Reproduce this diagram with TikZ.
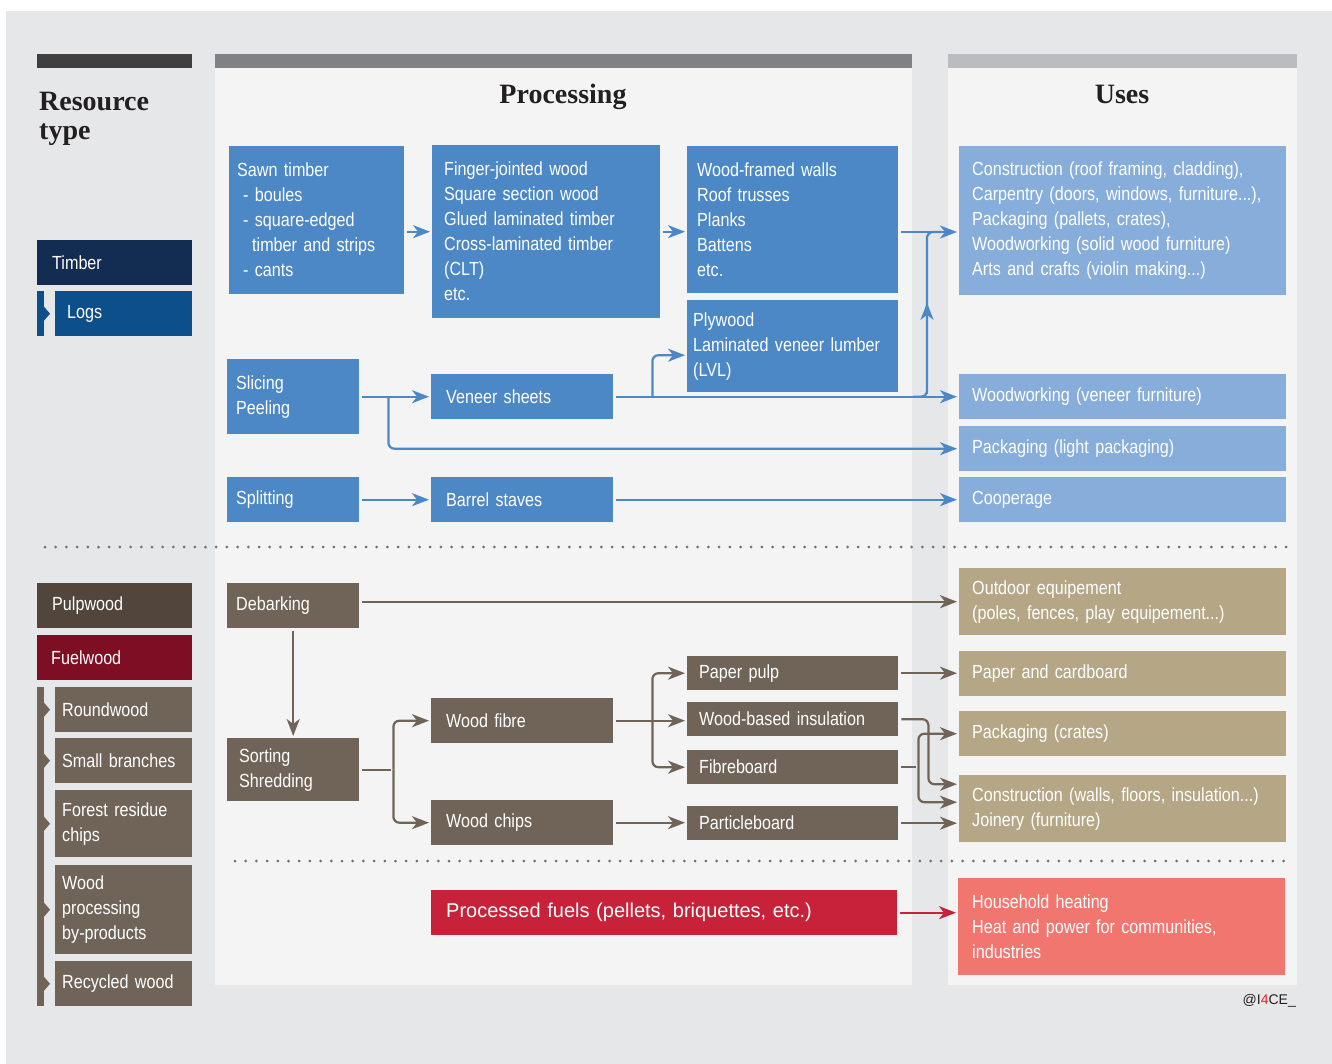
\documentclass[tikz,border=0pt]{standalone}
\usepackage{fontspec}
\setmainfont{Liberation Sans}[FakeStretch=0.85]
\newfontfamily\wideface{Liberation Sans}
\newfontfamily\slabface{Liberation Serif}
\usetikzlibrary{arrows.meta,calc}
\newcommand{\cellfont}{\fontsize{19pt}{25pt}\selectfont}
\newcommand{\titlefont}{\slabface\bfseries\fontsize{28pt}{29pt}\selectfont}

\definecolor{bgc}{HTML}{E6E7E9}
\definecolor{panel}{HTML}{F4F4F4}
\definecolor{ink}{HTML}{231F20}
\definecolor{bardark}{HTML}{3F3F3F}
\definecolor{barmid}{HTML}{808184}
\definecolor{barlight}{HTML}{BBBCBF}
\definecolor{timber}{HTML}{132C52}
\definecolor{logs}{HTML}{0D4F8B}
\definecolor{procblue}{HTML}{4C87C6}
\definecolor{useblue}{HTML}{87ADDB}
\definecolor{pulp}{HTML}{52453B}
\definecolor{fuel}{HTML}{7E0E24}
\definecolor{woodbrown}{HTML}{6F6457}
\definecolor{usetan}{HTML}{B5A786}
\definecolor{fuelred}{HTML}{C8213A}
\definecolor{salmon}{HTML}{F27670}
\definecolor{dotgray}{HTML}{707072}
\definecolor{logored}{HTML}{E8202A}

\begin{document}
\begin{tikzpicture}[x=1pt,y=-1pt,
  cell/.style={anchor=north west,inner ysep=0pt,align=left,text=white,font=\cellfont},
  proc/.style={cell,fill=procblue},
  usebox/.style={cell,fill=useblue,inner xsep=13pt,text width=301pt},
  wood/.style={cell,fill=woodbrown},
  tanbox/.style={cell,fill=usetan,inner xsep=13pt,text width=301pt},
  side/.style={cell,fill=woodbrown,inner xsep=7pt,text width=123pt},
  title/.style={font=\titlefont,text=ink,inner sep=0pt},
  arr/.style={draw,line width=2.2pt,shorten <=3pt,shorten >=2pt,-{Stealth[length=17pt,width=13pt,inset=5pt]}},
  barr/.style={arr,draw=procblue},
  brarr/.style={arr,draw=woodbrown},
  redarr/.style={arr,draw=fuelred},
  elbow/.style={rounded corners=6pt,shorten <=0pt},
  dots/.style={draw=dotgray,line width=3pt,line cap=round,dash pattern=on 0pt off 10.7pt}]

\useasboundingbox (0,0) rectangle (1332,1064);
\fill[white] (0,0) rectangle (1332,1064);
\fill[bgc] (6,11) rectangle (1332,1064);

\fill[bardark] (37,54) rectangle (192,68);
\fill[panel] (215,68) rectangle (912,985);
\fill[barmid] (215,54) rectangle (912,68);
\fill[panel] (948,68) rectangle (1297,985);
\fill[barlight] (948,54) rectangle (1297,68);

\node[title,anchor=north west,align=left] (restitle) at (39,91.5) {Resource\\type};
\node[title,anchor=base] (proctitle) at (563,104) {Processing};
\node[title,anchor=base] (usetitle) at (1122,104) {Uses};

\node[cell,fill=timber,inner xsep=15pt,text width=125pt,minimum height=45pt] (timber) at (37,240) {Timber};
\node[cell,fill=logs,inner xsep=12pt,text width=113pt,minimum height=45pt] (logs) at (55,291) {Logs};
\node[cell,fill=pulp,inner xsep=15pt,text width=125pt,minimum height=45pt] (pulpwood) at (37,583) {Pulpwood};
\node[cell,fill=fuel,inner xsep=14pt,text width=127pt,minimum height=45pt] (fuelwood) at (37,635) {Fuelwood};
\node[side,minimum height=45pt] (round) at (55,687) {Roundwood};
\node[side,minimum height=45pt] (branch) at (55,738) {Small branches};
\node[side,minimum height=67pt] (residue) at (55,790) {Forest residue\\chips};
\node[side,minimum height=89pt] (byprod) at (55,865) {Wood\\processing\\by-products};
\node[side,minimum height=45pt] (recycled) at (55,961) {Recycled wood};

\coordinate (bar) at (44,0);
\fill[logs] (37,291) rectangle (44,336);
\fill[logs] (bar |- logs.west) ++(0,-7) -- ++(6,7) -- ++(-6,7) -- cycle;
\fill[woodbrown] (37,687) rectangle (44,1006);
\foreach \n in {round,branch,residue,byprod,recycled}
  \fill[woodbrown] (bar |- \n.west) ++(0,-7) -- ++(6,7) -- ++(-6,7) -- cycle;

\node[proc,inner xsep=8pt,text width=159pt,minimum height=148pt] (sawn) at (229,146)
  {Sawn timber\\\hspace*{6pt}- boules\\\hspace*{6pt}- square-edged\\\hspace*{15pt}timber and strips\\\hspace*{6pt}- cants};
\node[proc,inner xsep=12pt,text width=204pt,minimum height=173pt] (finger) at (432,145)
  {Finger-jointed wood\\Square section wood\\Glued laminated timber\\Cross-laminated timber\\(CLT)\\etc.};
\node[proc,inner xsep=10pt,text width=191pt,minimum height=147pt] (frame) at (687,146)
  {Wood-framed walls\\Roof trusses\\Planks\\Battens\\etc.};
\node[proc,inner xsep=6pt,text width=199pt,minimum height=92pt] (ply) at (687,300)
  {Plywood\\Laminated veneer lumber\\(LVL)};
\node[proc,inner xsep=9pt,text width=114pt,minimum height=75pt] (slice) at (227,359) {Slicing\\Peeling};
\node[proc,inner xsep=15pt,text width=152pt,minimum height=45pt] (veneer) at (431,374) {Veneer sheets};
\node[proc,inner xsep=9pt,text width=114pt,minimum height=45pt] (split) at (227,477) {Splitting};
\node[proc,inner xsep=15pt,text width=152pt,minimum height=45pt] (staves) at (431,477) {Barrel staves};

\node[usebox,minimum height=149pt] (build) at (959,146)
  {Construction (roof framing, cladding),\\Carpentry (doors, windows, furniture...),\\Packaging (pallets, crates),\\Woodworking (solid wood furniture)\\Arts and crafts (violin making...)};
\node[usebox,minimum height=45pt] (veneeruse) at (959,374) {Woodworking (veneer furniture)};
\node[usebox,minimum height=45pt] (lightpack) at (959,426) {Packaging (light packaging)};
\node[usebox,minimum height=45pt] (cooper) at (959,477) {Cooperage};

\draw[dots] (45,547) -- (1292,547);

\node[wood,inner xsep=9pt,text width=114pt,minimum height=45pt] (debark) at (227,583) {Debarking};
\node[wood,inner xsep=12pt,text width=108pt,minimum height=63pt] (sort) at (227,738) {Sorting\\Shredding};
\node[wood,inner xsep=15pt,text width=152pt,minimum height=45pt] (fibre) at (431,698) {Wood fibre};
\node[wood,inner xsep=15pt,text width=152pt,minimum height=45pt] (chips) at (431,800) {Wood chips};
\node[wood,inner xsep=12pt,text width=187pt,minimum height=34pt] (pulpnode) at (687,656) {Paper pulp};
\node[wood,inner xsep=12pt,text width=187pt,minimum height=34pt] (insul) at (687,702) {Wood-based insulation};
\node[wood,inner xsep=12pt,text width=187pt,minimum height=34pt] (fboard) at (687,750) {Fibreboard};
\node[wood,inner xsep=12pt,text width=187pt,minimum height=34pt] (particle) at (687,806) {Particleboard};

\node[tanbox,minimum height=67pt] (outdoor) at (959,568) {Outdoor equipement\\(poles, fences, play equipement...)};
\node[tanbox,minimum height=45pt] (paper) at (959,651) {Paper and cardboard};
\node[tanbox,minimum height=45pt] (crates) at (959,711) {Packaging (crates)};
\node[tanbox,minimum height=67pt] (walls) at (959,775) {Construction (walls, floors, insulation...)\\Joinery (furniture)};

\draw[dots] (235,861) -- (1290,861);

\node[cell,fill=fuelred,inner xsep=15pt,text width=436pt,minimum height=45pt,font=\wideface\fontsize{20pt}{24pt}\selectfont] (fuels) at (431,890) {Processed fuels (pellets, briquettes, etc.)};
\node[cell,fill=salmon,inner xsep=14pt,text width=299pt,minimum height=97pt] (heat) at (958,878)
  {Household heating\\Heat and power for communities,\\industries};

\node[anchor=base east,inner sep=0pt,text=ink,font=\wideface\fontsize{14pt}{14pt}\selectfont] (credit) at (1296,1004) {@I{\color{logored}4}CE\_};

\coordinate (lane) at (927,232);
\path[every edge/.style=barr]
  (sawn.east |- finger.west) edge (finger.west)
  (finger.east) edge (frame.west |- finger.east)
  (frame.east |- lane) edge (build.west |- lane)
  (slice.east) edge (veneer.west)
  (veneer.east) edge (veneeruse.west)
  (split.east) edge (staves.west)
  (staves.east) edge (cooper.west);
\draw[barr,elbow] ($(slice.east)+(29,0)$) |- (lightpack.west);
\draw[barr,elbow] ($(veneer.east)+(39,0)$) |- ([yshift=-9pt]ply.west);
\draw[draw=procblue,line width=2.2pt,rounded corners=6pt]
  ($(veneer.east -| lane)-(14,0)$) -- (veneer.east -| lane) -- (lane) -- ($(lane)+(14,0)$);
\draw[barr,shorten >=0pt] (veneer.east -| lane) -- ($(lane)!0.43!(veneer.east -| lane)$);

\path[every edge/.style=brarr]
  (debark.east |- outdoor.west) edge (outdoor.west)
  (debark.south) edge (sort.north)
  (fibre.east) edge (insul.west |- fibre.east)
  (chips.east) edge (particle.west |- chips.east)
  (pulpnode.east) edge (paper.west |- pulpnode.east)
  (particle.east) edge (walls.west |- particle.east);
\draw[brarr,-] (sort.east) -- ++(34,0);
\draw[brarr,elbow] ($(sort.east)+(34,0)$) |- (fibre.west);
\draw[brarr,elbow] ($(sort.east)+(34,0)$) |- (chips.west);
\draw[brarr,elbow] ($(fibre.east)+(39,0)$) |- (pulpnode.west);
\draw[brarr,elbow] ($(fibre.east)+(39,0)$) |- (fboard.west);
\draw[brarr,rounded corners=6pt] (insul.east) -- ++(30,0) |- ([yshift=24.5pt]walls.west);
\draw[brarr,-] (fboard.east) -- ++(20,0);
\draw[brarr,elbow] ($(fboard.east)+(20,0)$) |- (crates.west);
\draw[brarr,elbow] ($(fboard.east)+(20,0)$) |- ([yshift=6.5pt]walls.west);

\path[every edge/.style=redarr] (fuels.east) edge (heat.west |- fuels.east);

\end{tikzpicture}
\end{document}
